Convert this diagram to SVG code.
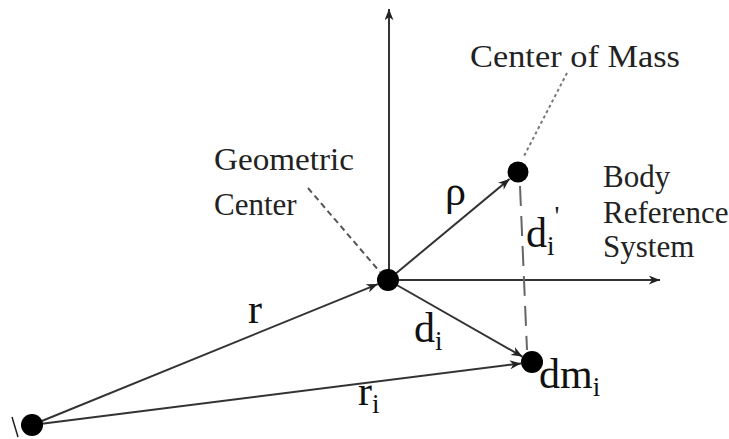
<svg xmlns="http://www.w3.org/2000/svg" width="729" height="439" viewBox="0 0 729 439">
<style>
.lbl{font-family:"Liberation Serif","Times New Roman",serif;font-size:31px;fill:#222}
.math{font-family:"Liberation Serif","Times New Roman",serif;font-size:42px;fill:#111}
.sub{font-family:"Liberation Serif","Times New Roman",serif;font-size:27px;fill:#111}
.vec{stroke:#333;stroke-width:2;fill:none}
.dash{stroke:#666;stroke-width:2;fill:none;stroke-dasharray:20,10}
.dot{fill:#000}
</style>
<defs>
<marker id="ah" viewBox="0 0 10 8" refX="10" refY="4" markerWidth="12" markerHeight="9" markerUnits="userSpaceOnUse" orient="auto">
<path d="M0,0 L10,4 L0,8 L3,4 Z" fill="#222"/>
</marker>
</defs>
<rect width="729" height="439" fill="#fff"/>
<g id="connectors">
<line class="vec" x1="389" y1="282" x2="389" y2="9" marker-end="url(#ah)"/>
<line class="vec" x1="388" y1="280" x2="660" y2="280" marker-end="url(#ah)"/>
<line class="vec" x1="32" y1="425" x2="377.8" y2="284.1" marker-end="url(#ah)"/>
<line class="vec" x1="32" y1="425" x2="521.1" y2="363.4" marker-end="url(#ah)"/>
<line class="vec" x1="388" y1="280" x2="509.5" y2="179" marker-end="url(#ah)"/>
<line class="vec" x1="388" y1="280" x2="522.4" y2="356.6" marker-end="url(#ah)"/>
<line class="dash" x1="520" y1="186" x2="527" y2="350"/>
<line x1="308" y1="188" x2="380" y2="272" stroke="#555" stroke-width="2" stroke-dasharray="6,4"/>
<line x1="567" y1="73" x2="523" y2="158" stroke="#777" stroke-width="2" stroke-dasharray="3,3"/>
<line x1="12" y1="417" x2="18" y2="437" stroke="#222" stroke-width="1.5"/>
</g>
<g id="origin"><circle class="dot" cx="388" cy="280" r="11"/></g>
<g id="center-of-mass"><circle class="dot" cx="518" cy="172" r="10.5"/></g>
<g id="dm"><circle class="dot" cx="532" cy="362" r="11"/></g>
<g id="base"><circle class="dot" cx="32" cy="425" r="11"/></g>
<g id="labels">
<text class="lbl" x="470" y="67" textLength="210" lengthAdjust="spacingAndGlyphs">Center of Mass</text>
<text class="lbl" x="214" y="170" textLength="140" lengthAdjust="spacingAndGlyphs">Geometric</text>
<text class="lbl" x="214" y="215">Center</text>
<text class="lbl" x="603" y="187">Body</text>
<text class="lbl" x="603" y="223">Reference</text>
<text class="lbl" x="603" y="257">System</text>
<text class="math" x="445" y="205">ρ</text>
<text class="math" x="526" y="247">d<tspan class="sub" dy="8">i</tspan><tspan class="sub" dy="-30">'</tspan></text>
<text class="math" x="248" y="323">r</text>
<text class="math" x="414" y="342">d<tspan class="sub" dy="8">i</tspan></text>
<text class="math" x="539" y="388">dm<tspan class="sub" dy="8">i</tspan></text>
<text class="math" x="358" y="405">r<tspan class="sub" dy="8">i</tspan></text>
</g>
</svg>
